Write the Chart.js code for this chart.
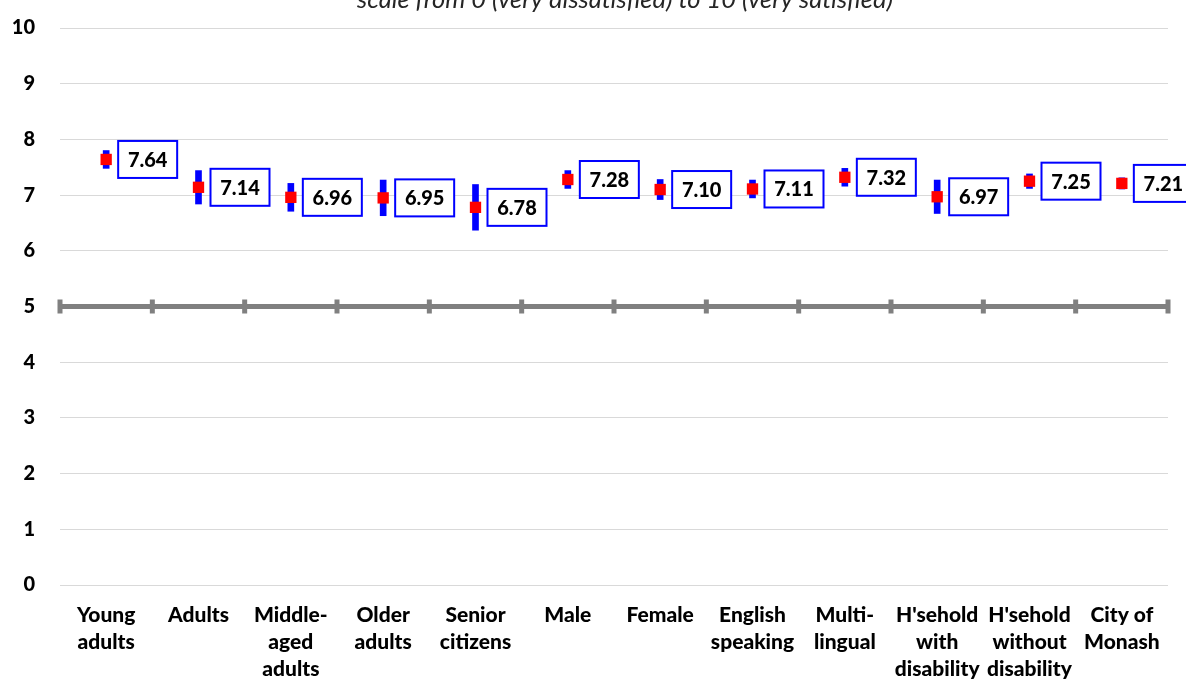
<!DOCTYPE html>
<html>
<head>
<meta charset="utf-8">
<title>Satisfaction by group</title>
<script src="https://cdn.jsdelivr.net/npm/chart.js@4.4.1/dist/chart.umd.min.js"></script>
<style>
    body { margin: 0; background: #ffffff; }
    #chartBox { position: relative; width: 1186px; height: 679px; overflow: hidden; }
</style>
</head>
<body>
<div id="chartBox">
    <canvas id="satisfactionChart" width="1186" height="679"></canvas>
</div>
<script>
// Chart data
const groupLabels = [
    ['Young', 'adults'],
    ['Adults'],
    ['Middle-', 'aged', 'adults'],
    ['Older', 'adults'],
    ['Senior', 'citizens'],
    ['Male'],
    ['Female'],
    ['English', 'speaking'],
    ['Multi-', 'lingual'],
    ["H'sehold", 'with', 'disability'],
    ["H'sehold", 'without', 'disability'],
    ['City of', 'Monash']
];
const meanScores = [7.64, 7.14, 6.96, 6.95, 6.78, 7.28, 7.10, 7.11, 7.32, 6.97, 7.25, 7.21];
// half width of the 95% confidence interval
const confMargins = [0.16, 0.30, 0.25, 0.32, 0.41, 0.16, 0.18, 0.16, 0.16, 0.30, 0.13, 0.10];
const yTicks = [0, 1, 2, 3, 4, 5, 6, 7, 8, 9, 10];
const subtitleText = 'scale from 0 (very dissatisfied) to 10 (very satisfied)';
const axisMidValue = 5;

const FONT = 'Lato, Calibri, "Noto Sans", sans-serif';

// Function to build the floating bars for the confidence intervals
function buildIntervals(means, margins) {
    return means.map((m, i) => [m - margins[i], m + margins[i]]);
}

// Plugin: cut-off italic subtitle at the top
const subtitlePlugin = {
    id: 'subtitleText',
    afterDraw(chart) {
        const ctx = chart.ctx;
        ctx.save();
        ctx.font = 'italic 25.5px ' + FONT;
        ctx.fillStyle = '#262626';
        ctx.textAlign = 'center';
        ctx.textBaseline = 'alphabetic';
        ctx.fillText(subtitleText, 625, 8);
        ctx.restore();
    }
};

// Plugin: cross tick marks on the thick line at 5
const midAxisPlugin = {
    id: 'midAxisTicks',
    beforeDatasetsDraw(chart) {
        const ctx = chart.ctx;
        const x = chart.scales.x;
        const y = chart.scales.y;
        const yPix = y.getPixelForValue(axisMidValue);
        const step = (x.right - x.left) / groupLabels.length;
        ctx.save();
        ctx.fillStyle = '#808080';
        for (let i = 0; i <= groupLabels.length; i++) {
            const xPix = x.left + i * step;
            ctx.fillRect(xPix - 2.5, yPix - 7, 5, 14);
        }
        ctx.restore();
    }
};

// Plugin: boxed value labels right of each marker
const valueBoxPlugin = {
    id: 'valueBoxes',
    afterDatasetsDraw(chart) {
        const ctx = chart.ctx;
        const meta = chart.getDatasetMeta(1);
        ctx.save();
        ctx.font = '900 20px ' + FONT;
        ctx.textAlign = 'center';
        ctx.textBaseline = 'middle';
        meta.data.forEach((pt, i) => {
            const left = pt.x + 12;
            const top = pt.y - 18.5;
            ctx.fillStyle = '#ffffff';
            ctx.fillRect(left, top, 59, 37);
            ctx.strokeStyle = '#0000ff';
            ctx.lineWidth = 2;
            ctx.strokeRect(left, top, 59, 37);
            ctx.fillStyle = '#000000';
            ctx.fillText(meanScores[i].toFixed(2), left + 29.5, pt.y + 1);
        });
        ctx.restore();
    }
};

const ctx = document.getElementById('satisfactionChart').getContext('2d');
new Chart(ctx, {
    data: {
        labels: groupLabels,
        datasets: [
            {
                type: 'bar',
                data: buildIntervals(meanScores, confMargins),
                backgroundColor: '#0000ff',
                barThickness: 6,
                order: 2
            },
            {
                type: 'line',
                data: meanScores,
                showLine: false,
                pointStyle: 'rect',
                pointRadius: 8,
                pointBorderWidth: 0,
                pointBackgroundColor: '#ff0000',
                order: 1
            }
        ]
    },
    options: {
        responsive: false,
        animation: false,
        layout: { padding: { top: 28, right: 18 } },
        plugins: {
            legend: { display: false },
            tooltip: { enabled: false }
        },
        scales: {
            x: {
                grid: { display: false, drawTicks: false },
                border: { display: false },
                ticks: {
                    color: '#000000',
                    padding: 17,
                    maxRotation: 0,
                    autoSkip: false,
                    font: { family: FONT, size: 21, weight: '900', lineHeight: 1.286 }
                },
                afterFit(scale) { scale.height = 94; }
            },
            y: {
                min: 0,
                max: 10,
                afterBuildTicks(scale) { scale.ticks = yTicks.map(v => ({ value: v })); },
                grid: {
                    drawTicks: false,
                    color: c => c.tick && c.tick.value === axisMidValue ? '#808080' : '#d9d9d9',
                    lineWidth: c => c.tick && c.tick.value === axisMidValue ? 5 : 1
                },
                border: { display: false },
                ticks: {
                    color: '#000000',
                    padding: 25,
                    font: { family: FONT, size: 20, weight: '900' }
                },
                afterFit(scale) {
                    scale.width = 60;
                    scale.paddingTop = 0;
                }
            }
        }
    },
    plugins: [midAxisPlugin, valueBoxPlugin, subtitlePlugin]
});
</script>
</body>
</html>
